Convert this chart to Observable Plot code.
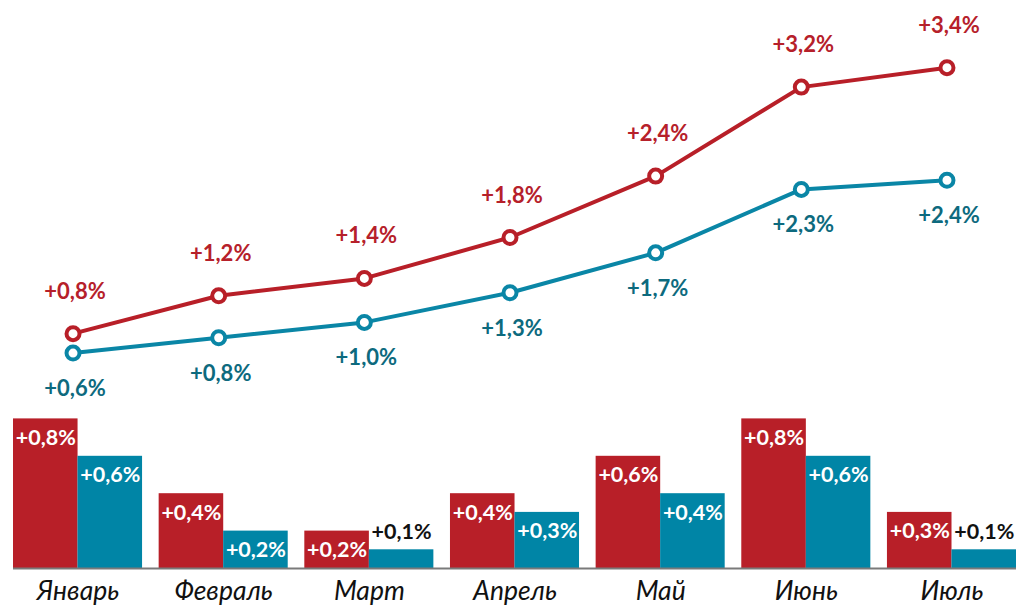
<!DOCTYPE html>
<html>
<head>
<meta charset="utf-8">
<script src="https://cdn.jsdelivr.net/npm/d3@7"></script>
<script src="https://cdn.jsdelivr.net/npm/@observablehq/plot@0.6"></script>
<style>
  html, body { margin: 0; padding: 0; background: #fff; }
  #chart svg { display: block; }
</style>
</head>
<body>
<div id="chart"></div>
<script>
// Months
const months = ["Январь", "Февраль", "Март", "Апрель", "Май", "Июнь", "Июль"];

// Cumulative (line) values, as read from point positions
const cumRed  = [0.80, 1.17, 1.34, 1.74, 2.34, 3.21, 3.40];
const cumTeal = [0.61, 0.76, 0.91, 1.20, 1.59, 2.21, 2.30];
// Cumulative labels as printed
const cumRedLabels  = ["+0,8%", "+1,2%", "+1,4%", "+1,8%", "+2,4%", "+3,2%", "+3,4%"];
const cumTealLabels = ["+0,6%", "+0,8%", "+1,0%", "+1,3%", "+1,7%", "+2,3%", "+2,4%"];

// Monthly (bar) values
const monRed  = [0.8, 0.4, 0.2, 0.4, 0.6, 0.8, 0.3];
const monTeal = [0.6, 0.2, 0.1, 0.3, 0.4, 0.6, 0.1];
const monRedLabels  = ["+0,8%", "+0,4%", "+0,2%", "+0,4%", "+0,6%", "+0,8%", "+0,3%"];
const monTealLabels = ["+0,6%", "+0,2%", "+0,1%", "+0,3%", "+0,4%", "+0,6%", "+0,1%"];

const RED = "#b81f28";
const TEAL = "#0a86a6";
const TEAL_TEXT = "#0d6a7e";
const RED_TEXT = "#b6202a";

const redLine  = months.map((m, i) => ({month: m, value: cumRed[i],  label: cumRedLabels[i]}));
const tealLine = months.map((m, i) => ({month: m, value: cumTeal[i], label: cumTealLabels[i]}));
const redBars  = months.map((m, i) => ({month: m, value: monRed[i],  label: monRedLabels[i]}));
const tealBars = months.map((m, i) => ({month: m, value: monTeal[i], label: monTealLabels[i]}));

const xScale = {type: "band", domain: months, range: [13, 1016], paddingInner: 0.114, paddingOuter: 0, align: 0.5, round: false};
const style = {fontFamily: "Lato, 'Open Sans', sans-serif", background: "white", overflow: "visible"};

const linePlot = Plot.plot({
  width: 1016, height: 405,
  marginTop: 0, marginBottom: 0, marginLeft: 13, marginRight: 0,
  style,
  x: {...xScale, axis: null},
  y: {domain: [0, 4], range: [415, 5.8], axis: null},
  marks: [
    Plot.line(tealLine, {x: "month", y: "value", stroke: TEAL, strokeWidth: 4, dx: -5}),
    Plot.line(redLine,  {x: "month", y: "value", stroke: RED,  strokeWidth: 4, dx: -5}),
    Plot.dot(tealLine, {x: "month", y: "value", r: 6.5, fill: "white", stroke: TEAL, strokeWidth: 4, dx: -5}),
    Plot.dot(redLine,  {x: "month", y: "value", r: 6.5, fill: "white", stroke: RED,  strokeWidth: 4, dx: -5}),
    Plot.text(redLine,  {x: "month", y: "value", text: "label", fill: RED_TEXT,  fontSize: 22, fontWeight: "bold", dx: -3, dy: -42}),
    Plot.text(tealLine, {x: "month", y: "value", text: "label", fill: TEAL_TEXT, fontSize: 22, fontWeight: "bold", dx: -3, dy: 36})
  ]
});

const barPlot = Plot.plot({
  width: 1016, height: 202,
  marginTop: 0, marginBottom: 0, marginLeft: 13, marginRight: 0,
  style,
  x: {...xScale, axis: null},
  y: {domain: [0, 1], range: [163, -24], axis: null},
  marks: [
    Plot.barY(redBars,  {x: "month", y: "value", fill: RED,  insetRight: 64.5}),
    Plot.barY(tealBars, {x: "month", y: "value", fill: "#0085a6", insetLeft: 64.5}),
    Plot.ruleY([0], {stroke: "#7a7a7a", strokeWidth: 2}),
    Plot.text(redBars, {x: "month", y: "value", text: "label", fill: "white", fontSize: 21.5, fontWeight: "bold", dx: -32.25, dy: 19}),
    Plot.text(tealBars.filter(d => d.value > 0.15), {x: "month", y: "value", text: "label", fill: "white", fontSize: 21.5, fontWeight: "bold", dx: 32.25, dy: 19}),
    Plot.text(tealBars.filter(d => d.value <= 0.15), {x: "month", y: "value", text: "label", fill: "#111", fontSize: 21.5, fontWeight: "bold", dx: 32.25, dy: -18}),
    Plot.text(months, {x: d => d, frameAnchor: "bottom", dy: -8, text: d => d, fontSize: 26.5, fontStyle: "italic", fill: "#111"})
  ]
});

document.getElementById("chart").append(linePlot, barPlot);
</script>
</body>
</html>
